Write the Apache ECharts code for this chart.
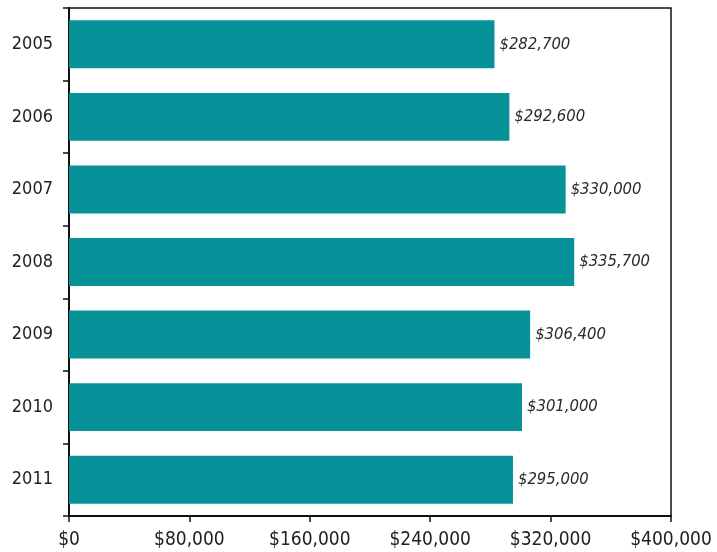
<!DOCTYPE html>
<html>
<head>
<meta charset="utf-8">
<style>
  html, body { margin: 0; padding: 0; background: #ffffff; }
  #chart { width: 717px; height: 552px; }
</style>
<script src="https://cdn.jsdelivr.net/npm/echarts@6/dist/echarts.min.js"></script>
</head>
<body>
<div id="chart"></div>
<script>
// Median price by year
const years = ['2005', '2006', '2007', '2008', '2009', '2010', '2011'];
const prices = [282700, 292600, 330000, 335700, 306400, 301000, 295000];
const xTicks = [0, 80000, 160000, 240000, 320000, 400000];

const money = v => '$' + v.toLocaleString('en-US');
const FONT = '"DejaVu Sans Condensed", "Noto Sans", sans-serif';

const chart = echarts.init(document.getElementById('chart'), null, { renderer: 'canvas' });
chart.setOption({
  animation: false,
  backgroundColor: '#ffffff',
  grid: {
    left: 69, right: 46, top: 8, bottom: 36,
    show: true, borderColor: '#111', borderWidth: 1.5, backgroundColor: 'transparent'
  },
  xAxis: {
    type: 'value',
    min: xTicks[0],
    max: xTicks[xTicks.length - 1],
    interval: xTicks[1] - xTicks[0],
    axisLine: { show: true, lineStyle: { color: '#111', width: 2 } },
    axisTick: { show: true, length: 6, lineStyle: { color: '#111', width: 1.5 } },
    splitLine: { show: false },
    axisLabel: {
      color: '#222', fontSize: 19, fontFamily: FONT, margin: 15,
      formatter: money
    }
  },
  yAxis: {
    type: 'category',
    data: years,
    inverse: true,
    axisLine: { show: true, lineStyle: { color: '#111', width: 2 } },
    axisTick: { show: true, length: 6, lineStyle: { color: '#111', width: 1.5 } },
    axisLabel: { color: '#222', fontSize: 18, fontFamily: FONT, margin: 16 }
  },
  series: [{
    type: 'bar',
    data: prices,
    barCategoryGap: '34%',
    itemStyle: { color: '#07929a' },
    label: {
      show: true,
      position: 'right',
      distance: 5,
      color: '#2a2a2a',
      fontSize: 16.5,
      fontStyle: 'italic',
      fontFamily: FONT,
      formatter: p => money(p.value)
    }
  }]
});
</script>
</body>
</html>
